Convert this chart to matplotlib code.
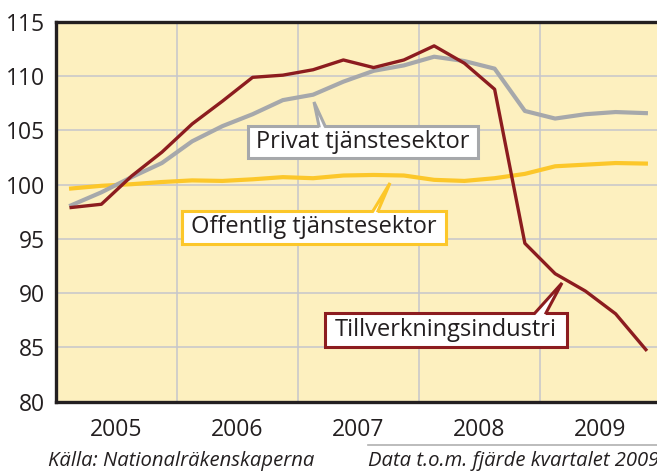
import matplotlib
matplotlib.use("Agg")
import matplotlib.pyplot as plt
from matplotlib.patches import Polygon
from matplotlib.lines import Line2D

plt.rcParams['font.family'] = ['Open Sans', 'DejaVu Sans']

# quarterly data 2005Q1 - 2009Q4, index
quarters = [2005 + 0.125 + 0.25 * i for i in range(20)]
tillverkning = [97.9, 98.2, 100.8, 103.0, 105.6, 107.7, 109.9, 110.1, 110.6, 111.5,
                110.8, 111.5, 112.8, 111.2, 108.8, 94.6, 91.8, 90.2, 88.1, 84.8]
privat = [98.1, 99.3, 100.7, 102.0, 104.0, 105.4, 106.5, 107.8, 108.3, 109.5,
          110.5, 111.0, 111.8, 111.4, 110.7, 106.8, 106.1, 106.5, 106.7, 106.6]
offentlig = [99.65, 99.9, 100.05, 100.25, 100.4, 100.35, 100.5, 100.7, 100.6, 100.85,
             100.9, 100.85, 100.45, 100.35, 100.6, 101.0, 101.7, 101.85, 102.0, 101.95]
years = [2005, 2006, 2007, 2008, 2009]
yticks = [80, 85, 90, 95, 100, 105, 110, 115]

RED = '#8c1c1f'
GREY = '#a6a8ab'
YELLOW = '#fcc72a'
BG = '#fdf0bf'
INK = '#231f20'

W, H = 657, 472
fig = plt.figure(figsize=(W / 100, H / 100), dpi=100)
ax = fig.add_axes([56 / W, (H - 401.7) / H, 605 / W, 379.7 / H])
ax.set_facecolor(BG)

ax.set_xlim(2005, 2010)
ax.set_ylim(80, 115)
ax.set_yticks(yticks)
ax.set_xticks([y + 1 for y in years[:-1]] + [2010])
ax.set_xticks([y + 0.5 for y in years], minor=True)
ax.set_xticklabels([])
ax.set_xticklabels([str(y) for y in years], minor=True)
ax.tick_params(axis='both', which='both', length=0, labelsize=16.5, colors=INK)
ax.tick_params(axis='y', pad=8)
ax.tick_params(axis='x', which='minor', pad=12)
ax.grid(True, which='major', color='#c5c6cc', linewidth=1.1)
ax.set_axisbelow(True)

for side in ['top', 'bottom', 'left', 'right']:
    ax.spines[side].set_color(INK)
    ax.spines[side].set_linewidth(2.4)

ax.plot(quarters, offentlig, color=YELLOW, linewidth=3.0, solid_joinstyle='round', zorder=3)
ax.plot(quarters, privat, color=GREY, linewidth=3.0, solid_joinstyle='round', zorder=3)
ax.plot(quarters, tillverkning, color=RED, linewidth=2.4, solid_joinstyle='round', zorder=4)


def px(x, y):
    # pixel position in the figure -> data coordinates
    return 2005 + (x - 56) / 121, 115 - (y - 22) / 10.85


def callout(text, box, tip, base, color):
    x0, y0 = px(box[0], box[1])
    x1, y1 = px(box[2], box[3])
    ax.add_patch(plt.Rectangle((x0, y1), x1 - x0, y0 - y1, facecolor='white',
                               edgecolor=color, linewidth=2.2, zorder=6))
    tx, ty = px(*tip)
    bl = px(base[0], box[1])
    br = px(base[1], box[1])
    bl_in = px(base[0], box[1] + 3)
    br_in = px(base[1], box[1] + 3)
    ax.add_patch(Polygon([bl_in, bl, (tx, ty), br, br_in], closed=True,
                         facecolor='white', edgecolor='none', zorder=7))
    ax.add_line(Line2D([bl[0], tx, br[0]], [bl[1], ty, br[1]], color=color,
                       linewidth=2.2, zorder=7, solid_joinstyle='miter'))
    cx, cy = px((box[0] + box[2]) / 2, (box[1] + box[3]) / 2)
    ax.text(cx, cy, text, ha='center', va='center', fontsize=17, color=INK, zorder=8)


callout('Privat tjänstesektor', (248, 126, 478, 158), (314, 102), (319, 325), GREY)
callout('Offentlig tjänstesektor', (182, 211, 446, 244), (390, 183), (373, 378), YELLOW)
callout('Tillverkningsindustri', (325, 313, 567, 347), (562, 283), (535, 546), RED)

fig.text(48 / W, 1 - 461 / H, 'Källa: Nationalräkenskaperna', fontsize=14.6, style='italic',
         color=INK, ha='left', va='center')
fig.text(368 / W, 1 - 461 / H, 'Data t.o.m. fjärde kvartalet 2009', fontsize=14.6, style='italic',
         color=INK, ha='left', va='center')
fig.add_artist(Line2D([368 / W, 1.0], [1 - 445 / H, 1 - 445 / H], color='#b0b0b0', linewidth=1.2))

fig.savefig('out.png', dpi=100)
